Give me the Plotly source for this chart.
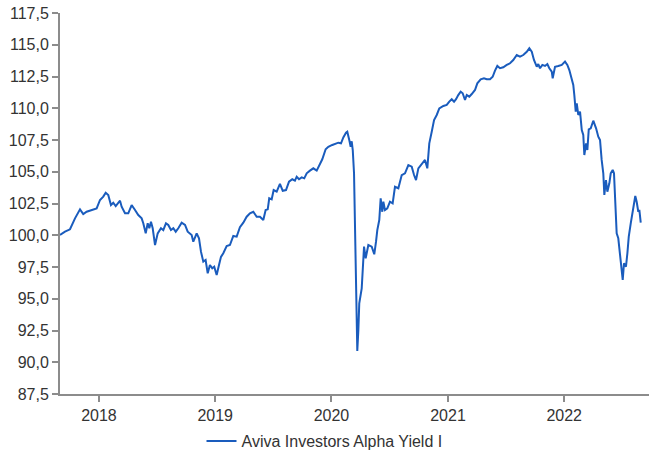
import plotly.graph_objects as go
import pandas as pd

# Decimal years (time axis) and fund values
years = [
    2017.665, 2017.708, 2017.751, 2017.794, 2017.837, 2017.865, 2017.894, 2017.937, 2017.980,
    2018.009, 2018.037, 2018.058, 2018.080, 2018.103, 2018.123, 2018.144, 2018.166, 2018.181,
    2018.195, 2018.224, 2018.252, 2018.281, 2018.310, 2018.338, 2018.367, 2018.381, 2018.402,
    2018.419, 2018.433, 2018.447, 2018.462, 2018.482, 2018.505, 2018.533, 2018.553, 2018.576,
    2018.596, 2018.619, 2018.639, 2018.660, 2018.682, 2018.711, 2018.740, 2018.763, 2018.797,
    2018.811, 2018.840, 2018.860, 2018.877, 2018.897, 2018.917, 2018.935, 2018.954, 2018.974,
    2018.991, 2019.012, 2019.032, 2019.049, 2019.069, 2019.098, 2019.126, 2019.155, 2019.184,
    2019.212, 2019.241, 2019.270, 2019.298, 2019.327, 2019.356, 2019.384, 2019.413, 2019.433,
    2019.451, 2019.464, 2019.485, 2019.502, 2019.528, 2019.556, 2019.580, 2019.608, 2019.634,
    2019.662, 2019.685, 2019.700, 2019.720, 2019.743, 2019.765, 2019.786, 2019.814, 2019.843,
    2019.872, 2019.900, 2019.920, 2019.949, 2019.972, 2020.006, 2020.035, 2020.058, 2020.081,
    2020.101, 2020.124, 2020.135, 2020.152, 2020.164, 2020.173, 2020.182, 2020.193, 2020.201,
    2020.212, 2020.221, 2020.230, 2020.238, 2020.259, 2020.279, 2020.293, 2020.316, 2020.345,
    2020.367, 2020.382, 2020.393, 2020.410, 2020.422, 2020.436, 2020.445, 2020.459, 2020.479,
    2020.502, 2020.525, 2020.545, 2020.574, 2020.603, 2020.631, 2020.660, 2020.689, 2020.709,
    2020.726, 2020.746, 2020.775, 2020.803, 2020.823, 2020.840, 2020.861, 2020.881, 2020.904,
    2020.926, 2020.961, 2020.990, 2021.012, 2021.033, 2021.053, 2021.070, 2021.089, 2021.110,
    2021.127, 2021.147, 2021.162, 2021.184, 2021.205, 2021.233, 2021.253, 2021.282, 2021.310,
    2021.334, 2021.362, 2021.385, 2021.405, 2021.425, 2021.448, 2021.476, 2021.506, 2021.534,
    2021.562, 2021.592, 2021.620, 2021.648, 2021.678, 2021.700, 2021.721, 2021.740, 2021.764,
    2021.777, 2021.792, 2021.812, 2021.835, 2021.855, 2021.872, 2021.893, 2021.901, 2021.921,
    2021.949, 2021.979, 2022.007, 2022.027, 2022.044, 2022.065, 2022.078, 2022.087, 2022.099,
    2022.108, 2022.121, 2022.136, 2022.151, 2022.164, 2022.173, 2022.188, 2022.199, 2022.211,
    2022.228, 2022.250, 2022.274, 2022.293, 2022.308, 2022.322, 2022.336, 2022.345, 2022.359,
    2022.371, 2022.388, 2022.400, 2022.417, 2022.428, 2022.439, 2022.451, 2022.465, 2022.480,
    2022.494, 2022.503, 2022.514, 2022.531, 2022.543, 2022.555, 2022.572, 2022.589, 2022.600,
    2022.611, 2022.623, 2022.637, 2022.646, 2022.658,
]

values = [
    100.02, 100.28, 100.47, 101.33, 102.04, 101.67, 101.85, 101.99, 102.12,
    102.78, 103.04, 103.35, 103.17, 102.38, 102.56, 102.30, 102.51, 102.72,
    102.25, 101.73, 101.73, 102.38, 101.99, 101.59, 101.33, 100.94, 100.15,
    100.94, 100.55, 101.07, 100.55, 99.23, 100.15, 100.55, 100.41, 100.94,
    100.81, 100.41, 100.55, 100.28, 100.55, 100.99, 100.81, 100.28, 100.02,
    99.49, 100.15, 99.76, 98.71, 97.92, 98.05, 97.00, 97.66, 97.40,
    97.52, 96.87, 97.66, 98.30, 98.58, 99.15, 99.23, 99.94, 99.89,
    100.63, 100.99, 101.46, 101.73, 101.85, 101.46, 101.46, 101.20, 101.99,
    102.04, 102.91, 102.83, 103.56, 103.43, 104.04, 103.50, 103.56, 104.22,
    104.41, 104.30, 104.61, 104.41, 104.56, 104.48, 104.88, 105.09, 105.27,
    105.09, 105.66, 105.98, 106.77, 106.97, 107.11, 107.19, 107.29, 107.24,
    107.70, 108.07, 108.15, 107.50, 106.97, 107.40, 106.71, 104.88, 100.41,
    94.00, 90.89, 92.50, 94.64, 95.82, 99.10, 98.18, 99.23, 99.10,
    98.50, 99.49, 100.41, 101.20, 102.91, 101.85, 102.64, 101.99, 102.12,
    102.64, 102.51, 103.82, 103.70, 104.74, 104.88, 105.53, 105.40, 104.74,
    104.35, 105.27, 105.66, 105.93, 105.27, 107.24, 108.15, 109.07, 109.47,
    109.99, 110.18, 110.26, 110.52, 110.71, 110.52, 110.71, 111.04, 111.30,
    111.18, 110.65, 111.04, 110.91, 111.12, 111.44, 111.96, 112.28, 112.36,
    112.28, 112.28, 112.48, 112.96, 113.33, 113.15, 113.23, 113.41, 113.54,
    113.80, 114.19, 114.06, 114.19, 114.45, 114.72, 114.45, 113.80, 113.27,
    113.48, 113.15, 113.41, 113.33, 113.48, 113.15, 112.88, 112.36, 113.27,
    113.33, 113.41, 113.67, 113.41, 113.01, 112.22, 111.83, 111.04, 109.73,
    110.39, 109.47, 109.73, 108.29, 107.90, 106.32, 107.24, 106.71, 108.34,
    108.42, 109.02, 108.42, 107.76, 107.50, 105.93, 104.88, 103.17, 104.35,
    103.43, 104.09, 104.88, 105.14, 104.88, 102.78, 100.15, 99.76, 98.58,
    97.00, 96.48, 97.79, 97.52, 98.58, 99.89, 100.94, 101.99, 102.38,
    103.09, 102.64, 101.85, 101.99, 100.99,
]

series_name = "Aviva Investors Alpha Yield I"
y_ticks = [87.5, 90.0, 92.5, 95.0, 97.5, 100.0, 102.5, 105.0, 107.5, 110.0, 112.5, 115.0, 117.5]
x_tick_years = [2018, 2019, 2020, 2021, 2022]
x_range_years = [2017.665, 2022.729]


def to_date(y):
    base = pd.Timestamp("2018-01-01")
    return base + pd.to_timedelta((y - 2018) * 365.25, unit="D")


dates = [to_date(y) for y in years]
x_tickvals = [pd.Timestamp(f"{y}-01-01") for y in x_tick_years]
x_range = [to_date(y) for y in x_range_years]

font = dict(family="Liberation Sans, Arial, sans-serif", size=16, color="#333333")
axis_grey = "#8c8c8c"

fig = go.Figure()
fig.add_trace(go.Scatter(
    x=dates, y=values, mode="lines", name=series_name,
    line=dict(color="#1a5cbd", width=2),
))

fig.update_layout(
    width=649, height=453,
    margin=dict(l=60, r=0, t=13, b=59, autoexpand=False),
    paper_bgcolor="white", plot_bgcolor="white",
    font=font,
    separators=",.",
    showlegend=True,
    legend=dict(orientation="h", x=0.5, xanchor="center", xref="container",
                y=1 - 441 / 453, yanchor="middle", yref="container",
                font=font, itemwidth=30),
)
fig.update_xaxes(
    range=x_range, tickvals=x_tickvals, ticktext=[str(y) for y in x_tick_years],
    showgrid=False, zeroline=False, showline=True, linecolor=axis_grey, linewidth=2,
    ticks="outside", ticklen=6, tickcolor=axis_grey, tickwidth=2, automargin=False,
)
fig.update_yaxes(
    range=[87.5, 117.5], tickvals=y_ticks, tickformat=".1f",
    showgrid=False, zeroline=False, showline=True, linecolor=axis_grey, linewidth=2,
    ticks="outside", ticklen=6, tickcolor=axis_grey, tickwidth=2, automargin=False,
)

fig.write_html(
    "out.html",
    config={"displayModeBar": False},
    post_script="document.body.style.margin='0';document.body.style.overflow='hidden';",
)
